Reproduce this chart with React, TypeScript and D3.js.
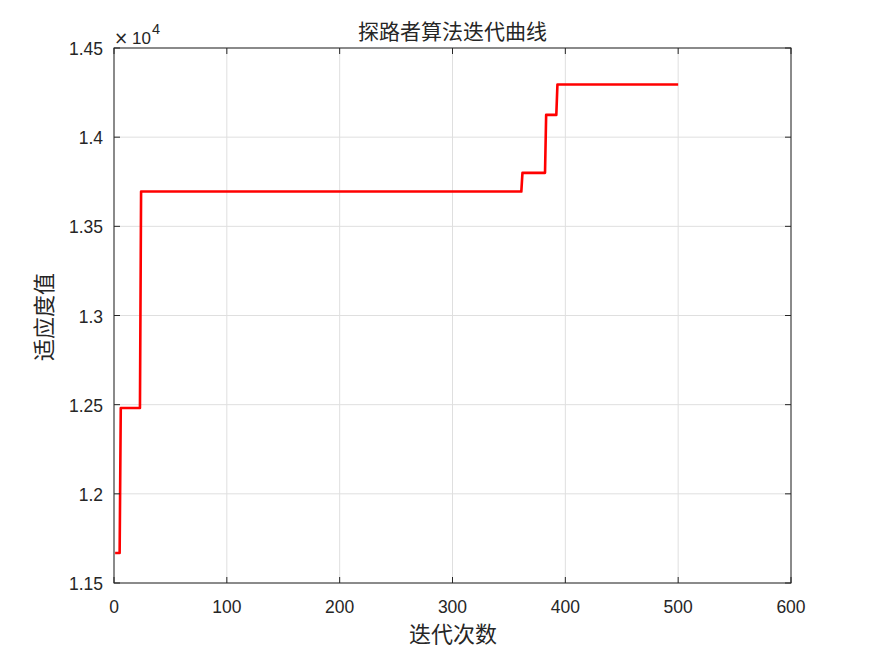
import React from "react";
import * as d3 from "d3";

const iterations = [1, 5, 6, 23, 24, 361, 362, 382, 383, 392, 393, 500];
const fitness = [11668, 11668, 12481, 12481, 13695, 13695, 13800, 13800, 14125, 14125, 14295, 14295];
const xTicks = [0, 100, 200, 300, 400, 500, 600];
const yTicks = [11500, 12000, 12500, 13000, 13500, 14000, 14500];
const yTickLabels = ["1.15", "1.2", "1.25", "1.3", "1.35", "1.4", "1.45"];
const title = "探路者算法迭代曲线";
const xLabel = "迭代次数";
const yLabel = "适应度值";

const W = 875, H = 656;
const L = 114, R = 791, T = 48, B = 583;
const axisColor = "#262626";
const cjk = "'Noto Sans CJK SC', sans-serif";
const num = "'Liberation Sans', Arial, sans-serif";

export default function App() {
  const x = d3.scaleLinear().domain([0, 600]).range([L, R]);
  const y = d3.scaleLinear().domain([11500, 14500]).range([B, T]);
  const line = d3.line<number>().x((_, i) => x(iterations[i])).y((d) => y(d));
  const path = line(fitness) || "";
  const tl = 6;
  return (
    <svg width={W} height={H} style={{ position: "absolute", left: 0, top: 0, background: "#fff" }}>
      <rect x={0} y={0} width={W} height={H} fill="#fff" />
      {xTicks.map((t) => (
        <line key={"gx" + t} x1={x(t)} x2={x(t)} y1={T} y2={B} stroke="#dfdfdf" strokeWidth={1} />
      ))}
      {yTicks.map((t) => (
        <line key={"gy" + t} x1={L} x2={R} y1={y(t)} y2={y(t)} stroke="#dfdfdf" strokeWidth={1} />
      ))}
      <path d={path} fill="none" stroke="#ff0000" strokeWidth={2.6} strokeLinejoin="round" />
      <rect x={L} y={T} width={R - L} height={B - T} fill="none" stroke={axisColor} strokeWidth={1} />
      {xTicks.map((t) => (
        <g key={"tx" + t}>
          <line x1={x(t)} x2={x(t)} y1={B} y2={B - tl} stroke={axisColor} />
          <line x1={x(t)} x2={x(t)} y1={T} y2={T + tl} stroke={axisColor} />
          <text x={x(t)} y={B + 30} textAnchor="middle" fontFamily={num} fontSize={17.5} fill={axisColor}>{t}</text>
        </g>
      ))}
      {yTicks.map((t, i) => (
        <g key={"ty" + t}>
          <line x1={L} x2={L + tl} y1={y(t)} y2={y(t)} stroke={axisColor} />
          <line x1={R} x2={R - tl} y1={y(t)} y2={y(t)} stroke={axisColor} />
          <text x={L - 11} y={y(t) + 7} textAnchor="end" fontFamily={num} fontSize={17.5} fill={axisColor}>{yTickLabels[i]}</text>
        </g>
      ))}
      <text x={114} y={44} fontFamily="'DejaVu Sans', sans-serif" fontSize={17} fill={axisColor}>×</text>
      <text x={132} y={44} fontFamily={num} fontSize={17} fill={axisColor}>10</text>
      <text x={152} y={34} fontFamily={num} fontSize={14.5} fill={axisColor}>4</text>
      <text x={452.5} y={39} textAnchor="middle" fontFamily={cjk} fontSize={21} fill={axisColor}>{title}</text>
      <text x={453} y={642} textAnchor="middle" fontFamily={cjk} fontSize={22} fill={axisColor}>{xLabel}</text>
      <text transform={`translate(52, 317) rotate(-90)`} textAnchor="middle" fontFamily={cjk} fontSize={22} fill={axisColor}>{yLabel}</text>
    </svg>
  );
}
